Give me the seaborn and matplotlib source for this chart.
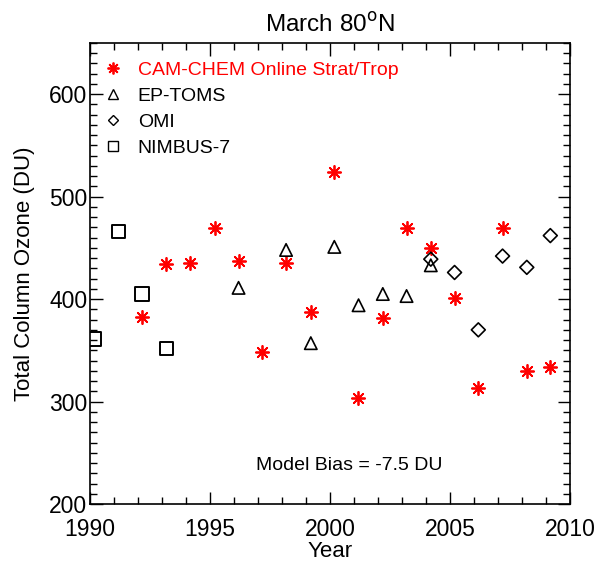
import matplotlib
matplotlib.use("Agg")
import matplotlib.pyplot as plt
import seaborn as sns
from matplotlib.lines import Line2D
from matplotlib.ticker import MultipleLocator

sns.set_style("ticks")
plt.rcParams['font.family'] = ['Liberation Sans Narrow', 'Liberation Sans', 'DejaVu Sans']
plt.rcParams['mathtext.fontset'] = 'custom'
plt.rcParams['mathtext.rm'] = 'Liberation Sans Narrow'
plt.rcParams['text.color'] = 'black'
plt.rcParams['axes.labelcolor'] = 'black'
plt.rcParams['xtick.color'] = 'black'
plt.rcParams['ytick.color'] = 'black'

# Data (year offset of mid-March)
cam_years = [1992.17, 1993.17, 1994.17, 1995.2, 1996.19, 1997.18, 1998.17, 1999.2, 2000.18,
             2001.16, 2002.2, 2003.19, 2004.2, 2005.19, 2006.18, 2007.19, 2008.2, 2009.18]
cam_vals = [383, 434, 435, 469, 437, 348, 435, 387, 524, 303, 382, 469, 450, 401, 313, 469, 330, 334]

toms_years = [1996.19, 1998.17, 1999.2, 2000.18, 2001.19, 2002.2, 2003.19, 2004.2]
toms_vals = [411, 448, 357, 451, 394, 405, 403, 433]

omi_years = [2004.2, 2005.19, 2006.18, 2007.19, 2008.2, 2009.18]
omi_vals = [439, 426, 370, 442, 431, 462]

nimbus_years = [1990.2, 1991.2, 1992.17, 1993.2]
nimbus_vals = [361, 466, 405, 352]

labels = ["CAM-CHEM Online Strat/Trop", "EP-TOMS", "OMI", "NIMBUS-7"]
title = r"March 80$^{\mathrm{o}}$N"
bias_text = "Model Bias = -7.5 DU"

fig = plt.figure(figsize=(6.01, 5.63), dpi=100)
ax = fig.add_axes([90/601, 1-504/563, 480/601, 461/563])

ast = (8, 2, 0)
sns.scatterplot(x=cam_years, y=cam_vals, ax=ax, marker=ast, s=90, color='red',
                edgecolor='red', linewidth=1.3, zorder=3)
sns.scatterplot(x=toms_years, y=toms_vals, ax=ax, marker='^', s=80, facecolors='none',
                edgecolor='black', linewidth=1.2, zorder=3)
sns.scatterplot(x=omi_years, y=omi_vals, ax=ax, marker='D', s=50, facecolors='none',
                edgecolor='black', linewidth=1.2, zorder=3)
sns.scatterplot(x=nimbus_years, y=nimbus_vals, ax=ax, marker='s', s=90, facecolors='none',
                edgecolor='black', linewidth=1.4, zorder=3)

ax.set_xlim(1990, 2010)
ax.set_ylim(200, 650)
ax.xaxis.set_major_locator(MultipleLocator(5))
ax.xaxis.set_minor_locator(MultipleLocator(1))
ax.yaxis.set_major_locator(MultipleLocator(100))
ax.yaxis.set_minor_locator(MultipleLocator(10))
ax.tick_params(which='both', direction='in', top=True, right=True, color='black')
ax.tick_params(which='major', length=9, width=1, labelsize=16.5)
ax.tick_params(axis='x', which='major', pad=10)
ax.tick_params(axis='y', which='major', pad=2)
ax.tick_params(which='minor', length=5, width=1)
for s in ax.spines.values():
    s.set_linewidth(1.2)
    s.set_color('black')

ax.set_xlabel("Year", fontsize=16, labelpad=0)
ax.set_ylabel("Total Column Ozone (DU)", fontsize=16, labelpad=10)
ax.set_title(title, fontsize=17.5, pad=8)
ax.text(2000.8, 238, bias_text, fontsize=14, ha='center', va='center')

handles = [
    Line2D([], [], linestyle='none', marker=ast, color='red', markersize=8.5, markeredgewidth=1.3),
    Line2D([], [], linestyle='none', marker='^', markerfacecolor='none', markeredgecolor='black', markersize=7),
    Line2D([], [], linestyle='none', marker='D', markerfacecolor='none', markeredgecolor='black', markersize=5.5),
    Line2D([], [], linestyle='none', marker='s', markerfacecolor='none', markeredgecolor='black', markersize=7),
]
leg = ax.legend(handles, labels, loc='upper left', frameon=False, fontsize=14,
                handlelength=1.0, handletextpad=0.75, labelspacing=0.43,
                bbox_to_anchor=(0.0, 0.99), borderaxespad=0.3)
for t, c in zip(leg.get_texts(), ['red', 'black', 'black', 'black']):
    t.set_color(c)

fig.savefig("out.png", dpi=100)
